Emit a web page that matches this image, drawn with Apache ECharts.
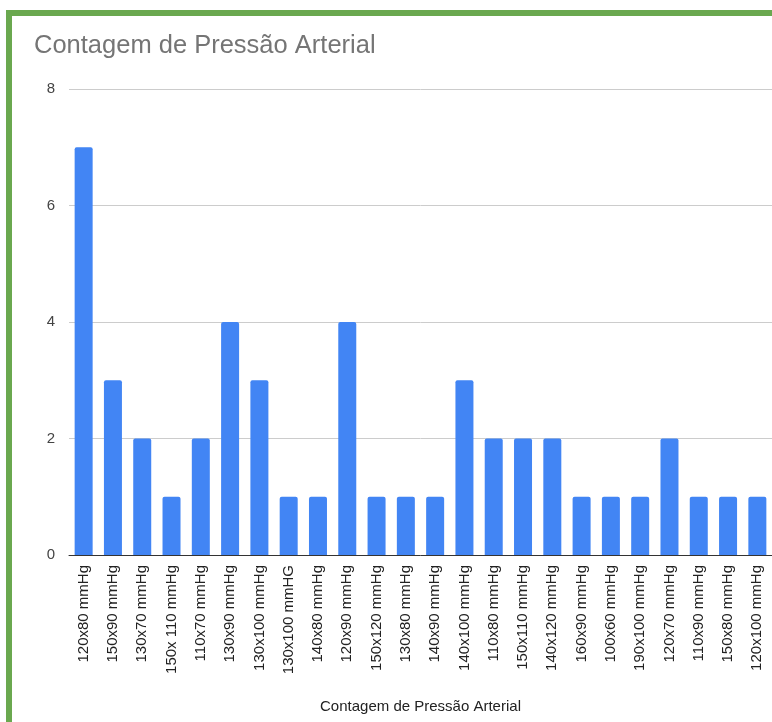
<!DOCTYPE html>
<html>
<head>
<meta charset="utf-8">
<script src="https://cdn.jsdelivr.net/npm/echarts@6/dist/echarts.min.js"></script>
<style>
html,body{margin:0;padding:0;background:#fff;}
#chart{position:absolute;left:0;top:0;width:772px;height:722px;}
.bt{position:absolute;left:6px;top:10px;width:766px;height:6px;background:#6aa84f;}
.bl{position:absolute;left:6px;top:10px;width:6px;height:712px;background:#6aa84f;}
</style>
</head>
<body>
<div id="chart"></div>
<div class="bt"></div>
<div class="bl"></div>
<script>
const categories = ["120x80 mmHg","150x90 mmHg","130x70 mmHg","150x 110 mmHg","110x70 mmHg","130x90 mmHg","130x100 mmHg","130x100 mmHG","140x80 mmHg","120x90 mmHg","150x120 mmHg","130x80 mmHg","140x90 mmHg","140x100 mmHg","110x80 mmHg","150x110 mmHg","140x120 mmHg","160x90 mmHg","100x60 mmHg","190x100 mmHg","120x70 mmHg","110x90 mmHg","150x80 mmHg","120x100 mmHg"];
const counts = [7,3,2,1,2,4,3,1,1,4,1,1,1,3,2,2,2,1,1,1,2,1,1,1];
const yTicks = [0,2,4,6,8];
const titleText = "Contagem de Pressão Arterial";
const xAxisName = "Contagem de Pressão Arterial";

const chart = echarts.init(document.getElementById('chart'), null, {renderer:'canvas'});
chart.setOption({
  animation:false,
  textStyle:{fontFamily:'Liberation Sans, Arial, sans-serif'},
  title:{text:titleText,left:29,top:28,textStyle:{fontSize:25.5,fontWeight:'normal',color:'#757575',fontFamily:'Liberation Sans, Arial, sans-serif'}},
  grid:{left:69,top:89,width:708,bottom:167,containLabel:false},
  xAxis:{
    type:'category',data:categories,
    axisTick:{show:false},
    axisLine:{lineStyle:{color:'#333',width:1}},
    axisLabel:{rotate:90,fontSize:15,color:'#222',margin:10,interval:0},
    name:xAxisName,nameLocation:'middle',nameGap:144,
    nameTextStyle:{fontSize:15,color:'#222'}
  },
  yAxis:{
    type:'value',min:yTicks[0],max:yTicks[yTicks.length-1],interval:2,
    axisLine:{show:false},axisTick:{show:false},
    axisLabel:{fontSize:15,color:'#444',margin:14},
    splitLine:{lineStyle:{color:'#cccccc'}}
  },
  series:[{type:'bar',data:counts,barWidth:18,itemStyle:{color:'#4285f4',borderRadius:[2,2,0,0]}}]
});
</script>
</body>
</html>
